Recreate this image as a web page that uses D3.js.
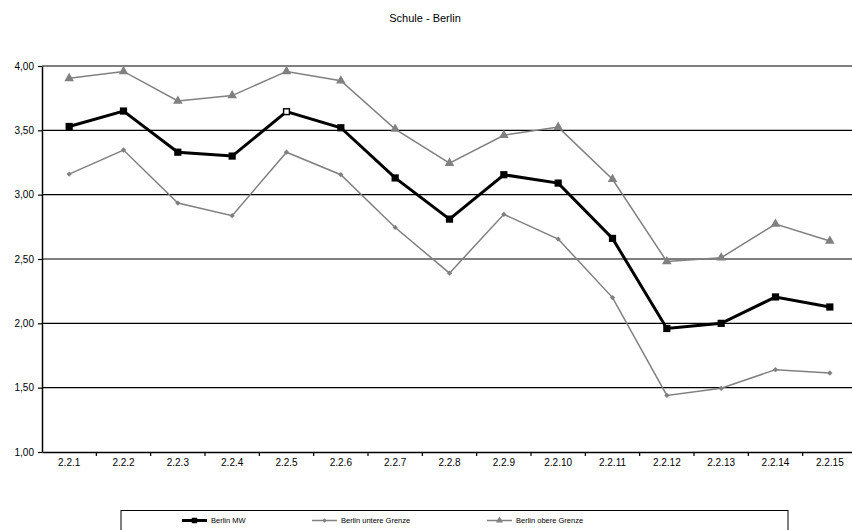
<!DOCTYPE html>
<html><head><meta charset="utf-8">
<script src="https://cdn.jsdelivr.net/npm/d3@7"></script>
<style>body{margin:0;background:#fff}svg{display:block;font-family:"Liberation Sans",Arial,sans-serif}</style>
</head><body><svg id="c" width="852" height="530"></svg>
<script>
const categories = ["2.2.1","2.2.2","2.2.3","2.2.4","2.2.5","2.2.6","2.2.7","2.2.8","2.2.9","2.2.10","2.2.11","2.2.12","2.2.13","2.2.14","2.2.15"];
const mw     = [3.53,3.65,3.33,3.30,3.645,3.52,3.13,2.81,3.155,3.09,2.66,1.96,2.00,2.205,2.127];
const untere = [3.16,3.347,2.935,2.837,3.33,3.155,2.745,2.39,2.847,2.655,2.20,1.44,1.495,1.64,1.614];
const obere  = [3.904,3.958,3.728,3.77,3.958,3.885,3.51,3.245,3.462,3.525,3.12,2.48,2.51,2.772,2.64];
const yTicks = [1,1.5,2,2.5,3,3.5,4];
const seriesNames = ["Berlin MW","Berlin untere Grenze","Berlin obere Grenze"];
const title = "Schule - Berlin";

const svg = d3.select("#c");
const L=42, R=857, T=66, B=452;
const x = d3.scaleBand().domain(categories).range([L,R]);
const y = d3.scaleLinear().domain([1,4]).range([B,T]);
const fmt = v => d3.format(".2f")(v).replace(".",",");

svg.append("text").attr("x",425).attr("y",22).attr("text-anchor","middle")
  .attr("font-size",11).attr("fill","#000").text(title);

// gridlines
svg.append("g").selectAll("line").data(yTicks.filter(v=>v>1))
  .join("line").attr("x1",L).attr("x2",852).attr("y1",d=>y(d)).attr("y2",d=>y(d))
  .attr("stroke",d=>d===4?"#808080":"#000").attr("stroke-width",d=>d===4?2:1.2);

// y axis
const ya = svg.append("g").attr("transform",`translate(${L},0)`)
  .call(d3.axisLeft(y).tickValues(yTicks).tickFormat(fmt).tickSize(4).tickSizeOuter(0));
ya.select(".domain").attr("stroke","#000").attr("stroke-width",1.5);
ya.selectAll("line").attr("stroke","#000").attr("stroke-width",1.2);
ya.selectAll("text").attr("font-size",10).attr("fill","#000").attr("font-family","Liberation Sans, Arial, sans-serif").attr("dx",-1);

// x axis
const xa = svg.append("g").attr("transform",`translate(0,${B})`)
  .call(d3.axisBottom(x).tickSize(0).tickSizeOuter(0));
xa.select(".domain").attr("stroke","#000").attr("stroke-width",1.5);
xa.selectAll("text").attr("font-size",10).attr("fill","#000").attr("dy","1.1em").attr("font-family","Liberation Sans, Arial, sans-serif");
svg.append("g").selectAll("line").data(categories.slice(1)).join("line")
  .attr("x1",d=>x(d)).attr("x2",d=>x(d)).attr("y1",B).attr("y2",B+4)
  .attr("stroke","#000").attr("stroke-width",1.2);

const cx = d => x(d)+x.bandwidth()/2;
const line = d3.line().x((d,i)=>cx(categories[i])).y(d=>y(d));

function drawSeries(vals, color, width, sym, size, rot){
  svg.append("path").datum(vals).attr("d",line).attr("fill","none")
    .attr("stroke",color).attr("stroke-width",width).attr("stroke-linejoin","miter");
  return svg.append("g").selectAll("path").data(vals).join("path")
    .attr("transform",(d,i)=>`translate(${cx(categories[i])},${y(d)}) rotate(${rot||0})`)
    .attr("d",d3.symbol().type(sym).size(size)).attr("fill",color);
}
drawSeries(untere,"#808080",1.5,d3.symbolSquare,14,45);
drawSeries(obere,"#808080",1.5,d3.symbolTriangle,40);
drawSeries(mw,"#000",3,d3.symbolSquare,52);
// hollow marker at 2.2.5 as in the reference
svg.append("rect").attr("x",cx(categories[4])-2.2).attr("y",y(mw[4])-2.2)
  .attr("width",4.4).attr("height",4.4).attr("fill","#fff");

// legend
const lg = svg.append("g");
lg.append("rect").attr("x",121).attr("y",510.5).attr("width",667).attr("height",30)
  .attr("fill","none").attr("stroke","#000").attr("stroke-width",1);
const legItems = [
  {name:seriesNames[0],x:182,color:"#000",w:3,sym:d3.symbolSquare,s:30,r:0},
  {name:seriesNames[1],x:312,color:"#808080",w:1.5,sym:d3.symbolSquare,s:10,r:45},
  {name:seriesNames[2],x:487,color:"#808080",w:1.5,sym:d3.symbolTriangle,s:22,r:0}
];
legItems.forEach(it=>{
  lg.append("line").attr("x1",it.x).attr("x2",it.x+25).attr("y1",520.5).attr("y2",520.5)
    .attr("stroke",it.color).attr("stroke-width",it.w);
  lg.append("path").attr("transform",`translate(${it.x+12.5},520.5) rotate(${it.r})`)
    .attr("d",d3.symbol().type(it.sym).size(it.s)).attr("fill",it.color);
  lg.append("text").attr("x",it.x+29).attr("y",523).attr("font-size",7.5).attr("fill","#000").text(it.name);
});
</script></body></html>
